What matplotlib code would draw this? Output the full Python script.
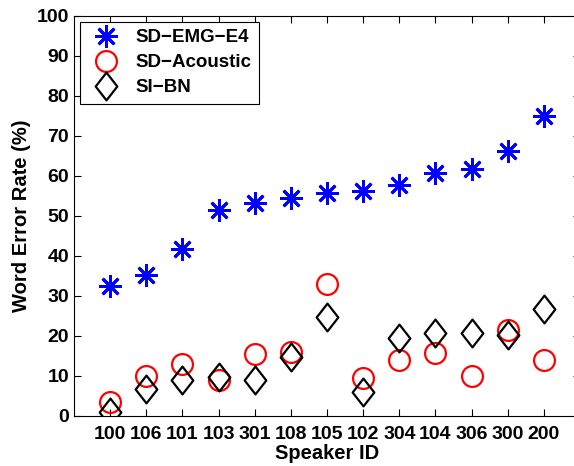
import matplotlib
matplotlib.use("Agg")
import matplotlib.pyplot as plt
from matplotlib.path import Path

speakers = ['100', '106', '101', '103', '301', '108', '105', '102', '304', '104', '306', '300', '200']
emg_e4 = [32.5, 35.2, 41.8, 51.5, 53.3, 54.4, 55.8, 56.2, 57.8, 60.7, 61.7, 66.2, 75.1]
acoustic = [3.6, 9.9, 12.9, 9.0, 15.6, 15.9, 33.0, 9.6, 14.0, 15.7, 9.9, 21.6, 14.0]
si_bn = [1.0, 6.7, 8.9, 9.8, 8.9, 14.7, 24.8, 6.0, 19.5, 20.8, 20.8, 20.2, 26.8]

plt.rcParams['font.family'] = ['Liberation Sans', 'DejaVu Sans']
plt.rcParams['font.weight'] = 'bold'

# matlab style diamond, a bit taller than wide
diamond = Path([(0, 1), (0.78, 0), (0, -1), (-0.78, 0), (0, 1)],
               [Path.MOVETO, Path.LINETO, Path.LINETO, Path.LINETO, Path.CLOSEPOLY])

fig = plt.figure(figsize=(5.74, 4.66), dpi=100)
ax = fig.add_axes([74 / 574, 50 / 466, 506 / 574, 400 / 466])

x = list(range(1, len(speakers) + 1))
ax.plot(x, emg_e4, linestyle='none', marker=(8, 2, 0), markersize=16,
        markeredgewidth=2.0, color='#0000ff', label='SD\u2212EMG\u2212E4')
ax.plot(x, acoustic, linestyle='none', marker='o', markersize=15,
        markeredgewidth=1.6, markerfacecolor='none', markeredgecolor='#ff0000',
        label='SD\u2212Acoustic')
ax.plot(x, si_bn, linestyle='none', marker=diamond, markersize=20,
        markeredgewidth=1.6, markerfacecolor='none', markeredgecolor='black',
        label='SI\u2212BN')

ax.set_xlim(0, 14)
ax.set_ylim(0, 100)
ax.set_xticks(x)
ax.set_xticklabels(speakers)
ax.set_yticks(range(0, 101, 10))
ax.tick_params(direction='in', top=True, right=True, labelsize=14, length=5, width=0.8)
ax.tick_params(axis='x', pad=7)
for s in ax.spines.values():
    s.set_linewidth(0.8)

ax.set_xlabel('Speaker ID', fontsize=14.5, fontweight='bold', labelpad=1)
ax.set_ylabel('Word Error Rate (%)', fontsize=14.5, fontweight='bold', labelpad=4)

leg = ax.legend(loc='upper left', fontsize=13.5, frameon=True, fancybox=False,
                edgecolor='black', framealpha=1, borderpad=0.4, labelspacing=0.42,
                handletextpad=0.6, borderaxespad=0.3, handlelength=2.0)
leg.get_frame().set_linewidth(0.8)

fig.savefig('out.png', dpi=100)
